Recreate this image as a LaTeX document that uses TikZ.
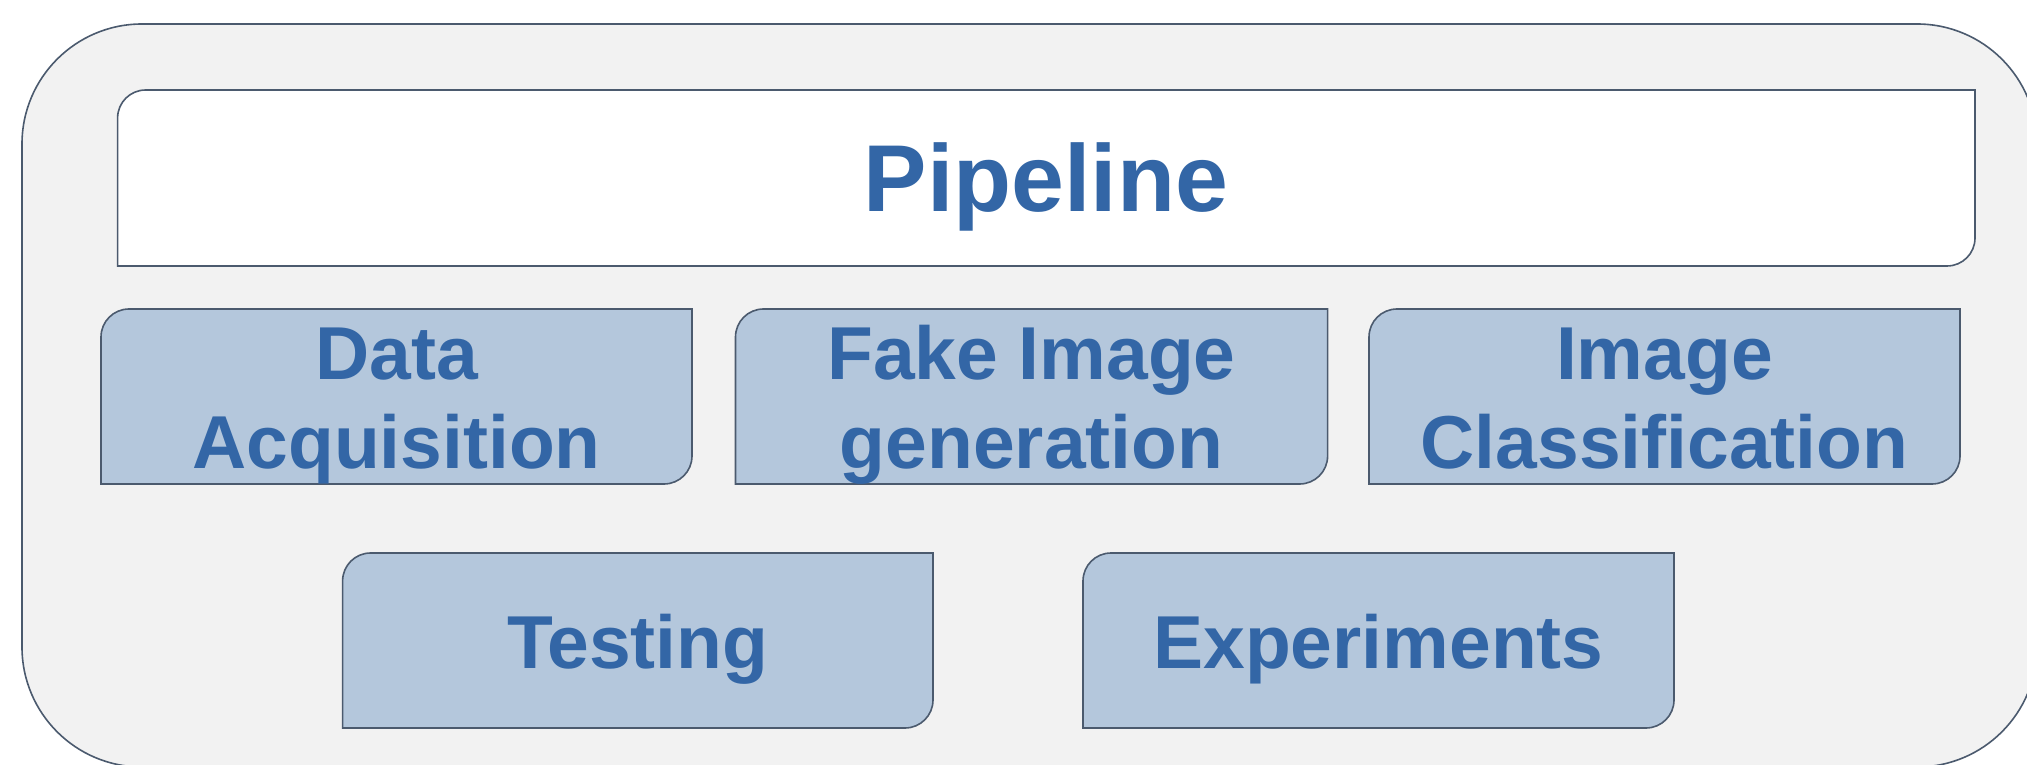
\documentclass[tikz,border=0pt]{standalone}
\usepackage{fontspec}
\setmainfont{Liberation Sans}
\definecolor{outerfill}{HTML}{F2F2F2}
\definecolor{boxfill}{HTML}{B4C7DC}
\definecolor{txtblue}{HTML}{3366A6}
\definecolor{edgecol}{HTML}{4B5A6E}
\newcommand\dbox[6]{% style, L, R, T, B, r
  \draw[#1] (#2,#5) -- (#2,{#4-#6}) arc[start angle=180, end angle=90, radius=#6]
    -- (#3,#4) -- (#3,{#5+#6}) arc[start angle=0, end angle=-90, radius=#6] -- cycle;}
\tikzset{
  edge/.style={draw=edgecol, line width=1.6pt},
  bluebox/.style={edge, fill=boxfill},
  whitebox/.style={edge, fill=white},
  lbl/.style={text=txtblue, font=\fontsize{75}{89}\selectfont\bfseries, anchor=base, inner sep=0pt},
  biglbl/.style={text=txtblue, font=\fontsize{95}{110}\selectfont\bfseries, anchor=base, inner sep=0pt}
}
\begin{document}
\begin{tikzpicture}[x=1pt,y=1pt]
\useasboundingbox (0,0) rectangle (2027,764);
\begin{scope}
\clip (0,0) rectangle (2027,764);
\draw[edge, fill=outerfill, rounded corners=120] (22,-3) rectangle (2037,740);
\end{scope}
% Pipeline
\dbox{whitebox}{117.6}{1975}{674}{498}{28}
\node[biglbl] (pipe) at (1046,552) {Pipeline};
% Row 1
\dbox{bluebox}{101}{692}{455}{280}{28}
\node[lbl] (da1) at (396.5,384) {Data};
\node[lbl] (da2) at (396.5,295) {Acquisition};
\dbox{bluebox}{735.5}{1327.6}{455}{280}{28}
\node[lbl] (fi1) at (1031.5,384) {Fake Image};
\node[lbl] (fi2) at (1031.5,295) {generation};
\dbox{bluebox}{1369}{1960}{455}{280}{28}
\node[lbl] (ic1) at (1664.5,384) {Image};
\node[lbl] (ic2) at (1664.5,295) {Classification};
% Row 2
\dbox{bluebox}{342.6}{933}{211}{36}{28}
\node[lbl] (test) at (637.8,96) {Testing};
\dbox{bluebox}{1083}{1674}{211}{36}{28}
\node[lbl] (exp) at (1378.5,96) {Experiments};
\end{tikzpicture}
\end{document}
